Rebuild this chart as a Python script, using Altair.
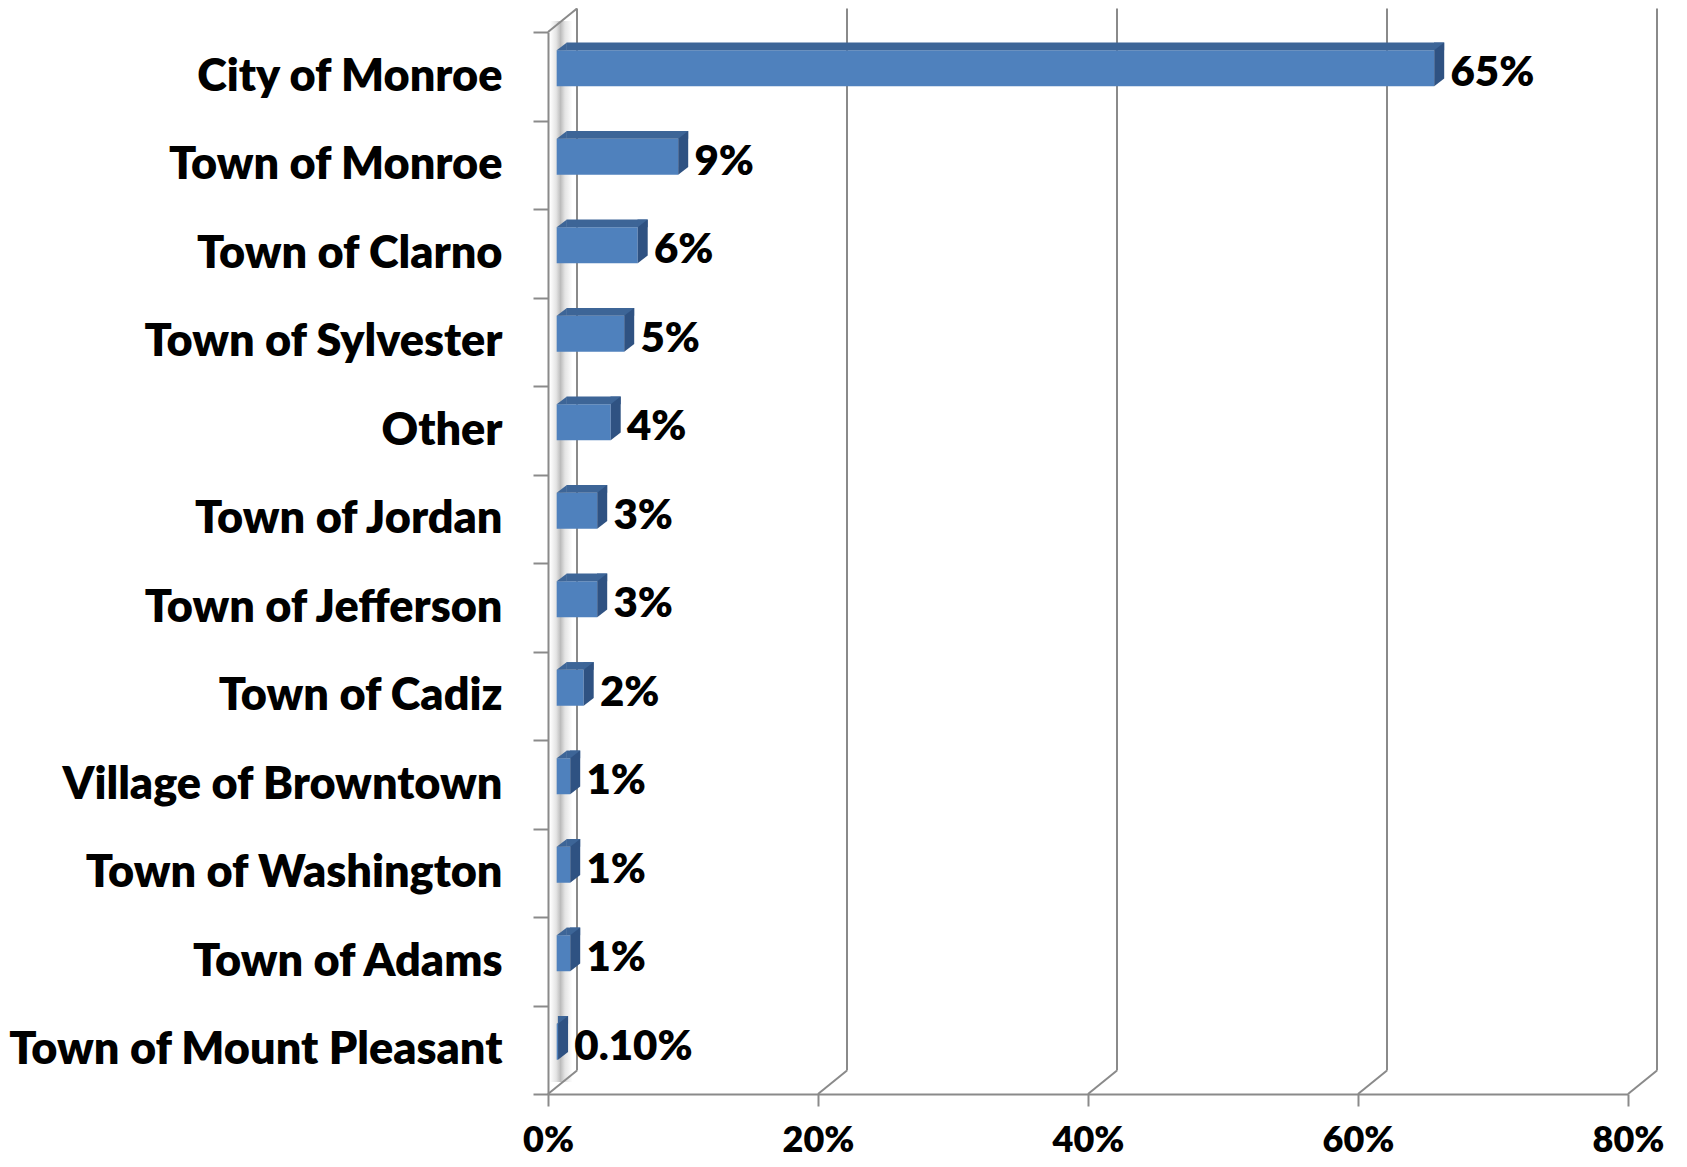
import altair as alt
import pandas as pd

categories = ["City of Monroe", "Town of Monroe", "Town of Clarno", "Town of Sylvester",
              "Other", "Town of Jordan", "Town of Jefferson", "Town of Cadiz",
              "Village of Browntown", "Town of Washington", "Town of Adams",
              "Town of Mount Pleasant"]
values = [65, 9, 6, 5, 4, 3, 3, 2, 1, 1, 1, 0.1]
value_labels = ["65%", "9%", "6%", "5%", "4%", "3%", "3%", "2%", "1%", "1%", "1%", "0.10%"]
x_ticks = [0, 20, 40, 60, 80]

W, H = 1080, 1062
DX, DY = 29, -23.5
GRID = "#8a8a8a"
FRONT = "#4f81bd"
TOP = "#3d6597"
SIDE = "#2f5282"
FONT = "Lato"
WEIGHT = 800

df = pd.DataFrame({"cat": categories, "val": values, "lab": value_labels})
ticks_df = pd.DataFrame({"t": x_ticks})
zero_df = pd.DataFrame({"t": [0]})

xscale = alt.Scale(domain=[0, 80], nice=False, zero=True)
yscale = alt.Scale(domain=categories, paddingInner=0, paddingOuter=0)

x_axis = alt.Axis(values=x_ticks, labelExpr="datum.value + '%'", title=None, grid=False,
                  domainColor=GRID, domainWidth=2, tickColor=GRID, tickWidth=2, tickSize=12,
                  labelPadding=17, labelFont=FONT, labelFontSize=36, labelFontWeight=WEIGHT,
                  labelColor="black", labelFlush=False, labelOverlap=False, labelAlign="center")
y_axis = alt.Axis(title=None, tickBand="extent", domainColor=GRID, domainWidth=2,
                  tickColor=GRID, tickWidth=2, tickSize=15, labelPadding=31, labelFont=FONT,
                  labelFontSize=45, labelFontWeight=WEIGHT, labelColor="black", labelLimit=700)


def XQ(field):
    return alt.X(field, type="quantitative", scale=xscale, axis=x_axis)


Y = alt.Y("cat:N", scale=yscale, sort=categories, axis=y_axis)

base = alt.Chart(df)

wall_grad = alt.LinearGradient(
    gradient="linear", x1=0, x2=1, y1=0, y2=0,
    stops=[alt.GradientStop(color="#ffffff", offset=0),
           alt.GradientStop(color="#e4e4e4", offset=0.25),
           alt.GradientStop(color="#bcbcbc", offset=0.42),
           alt.GradientStop(color="#e4e4e4", offset=0.6),
           alt.GradientStop(color="#ffffff", offset=0.9)])

wall = alt.Chart(zero_df).mark_rect(fill=wall_grad, xOffset=2, x2Offset=27).encode(
    x=XQ("t"), x2=alt.X2("t"),
    y=alt.value(-11), y2=alt.value(H - 12))

grid = alt.Chart(ticks_df).mark_rule(color=GRID, strokeWidth=2, xOffset=DX).encode(
    x=XQ("t"), y=alt.value(DY), y2=alt.value(H + DY))

diag = alt.Chart(ticks_df).mark_rule(color=GRID, strokeWidth=2, x2Offset=DX).encode(
    x=XQ("t"), x2=alt.X2("t"),
    y=alt.value(H), y2=alt.value(H + DY))

top_diag = alt.Chart(zero_df).mark_rule(color=GRID, strokeWidth=2, x2Offset=DX).encode(
    x=XQ("t"), x2=alt.X2("t"),
    y=alt.value(0), y2=alt.value(DY))

front = base.mark_bar(size=36, yOffset=-8, xOffset=8.7, x2Offset=8.7, color=FRONT).encode(
    x=XQ("val"), y=Y)

# baseline side takes xOffset, value end takes x2Offset
top_mid = base.mark_bar(size=7.7, yOffset=-29.85, xOffset=18.7, x2Offset=8.7, color=TOP).encode(
    x=XQ("val"), y=Y)

left_tri = base.mark_point(shape="M8.7,-26L18.9,-26L18.9,-33.7Z", size=4, filled=True,
                           opacity=1, color=TOP, strokeWidth=0).encode(
    x=alt.datum(0), y=Y)

right_tri = base.mark_point(shape="M8.5,-26L18.7,-33.7L8.5,-33.7Z", size=4, filled=True,
                            opacity=1, color=TOP, strokeWidth=0).encode(x=XQ("val"), y=Y)

side = base.mark_point(shape="M8.7,-26L18.7,-33.7L18.7,2.3L8.7,10Z", size=4, filled=True,
                       opacity=1, color=SIDE, strokeWidth=0).encode(x=XQ("val"), y=Y)

labels = base.mark_text(align="left", baseline="middle", dx=25, dy=-3, font=FONT,
                        fontSize=42, fontWeight=WEIGHT, color="black").encode(
    x=XQ("val"), y=Y, text="lab:N")

chart = alt.layer(wall, grid, diag, top_diag, front, top_mid, left_tri, right_tri, side, labels).properties(
    width=W, height=H,
    autosize=alt.AutoSizeParams(type="none"),
    padding={"left": 540, "top": 24, "right": 40, "bottom": 64},
).configure_view(stroke=None)

chart.save("out.html", embed_options={"renderer": "svg", "actions": False})
